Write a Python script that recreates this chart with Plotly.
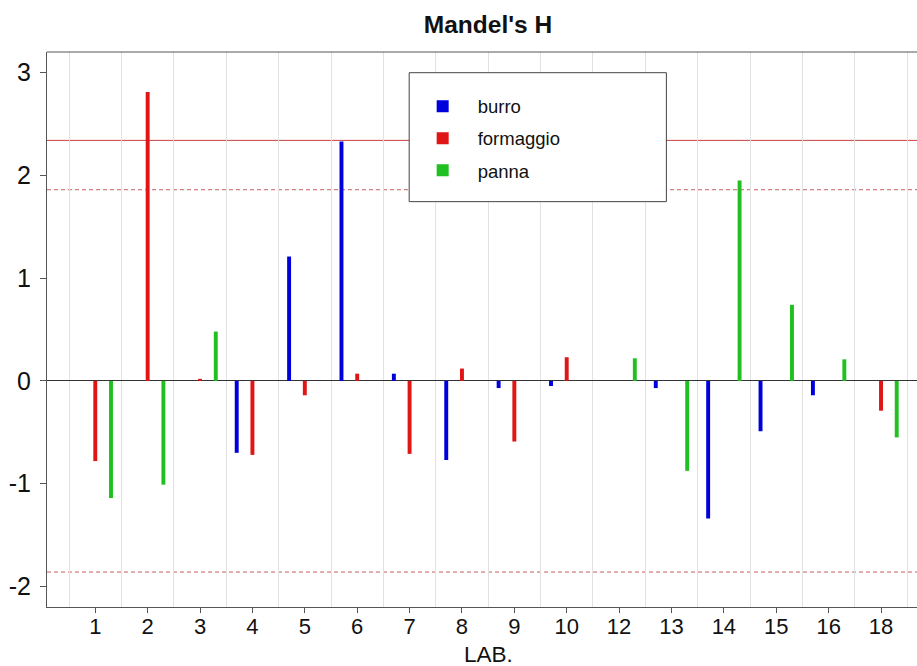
import plotly.graph_objects as go

# ---- data ----
labs = ["1", "2", "3", "4", "5", "6", "7", "8", "9", "10", "12", "13", "14", "15", "16", "18"]
series_names = ["burro", "formaggio", "panna"]
burro = [None, None, None, -0.70, 1.21, 2.33, 0.07, -0.77, -0.07, -0.05, None, -0.07, -1.34, -0.49, -0.14, None]
formaggio = [-0.78, 2.81, 0.02, -0.72, -0.14, 0.07, -0.71, 0.12, -0.59, 0.23, None, None, None, None, None, -0.29]
panna = [-1.14, -1.01, 0.48, None, None, None, None, None, None, None, 0.22, -0.875, 1.95, 0.74, 0.21, -0.55]
y_ticks = [-2, -1, 0, 1, 2, 3]
y_ticklabels = ["-2", "-1", "0", "1", "2", "3"]
h_crit_1 = 2.34
h_crit_5 = 1.86

# ---- style ----
colors = ["#0000dd", "#e01515", "#20c020"]
offsets = [-0.3, 0.0, 0.3]
W, H = 917, 666
ml, mr, mt, mb = 46.7, 0, 52.3, 58.5
FONT = "Liberation Sans, Arial, sans-serif"

pw = W - ml - mr
ph = H - mt - mb
def px_x(p):
    return (p - ml) / pw
def px_y(p):
    return (H - mb - p) / ph

fig = go.Figure()
for name, vals, col, off in zip(series_names, [burro, formaggio, panna], colors, offsets):
    xs = [i + 1 + off for i in range(len(labs))]
    fig.add_trace(go.Bar(
        x=xs, y=vals, name=name, width=0.075,
        marker=dict(color=col, line=dict(width=0)),
        legendgroup=name,
    ))

# legend box
fig.add_shape(type="rect", xref="paper", yref="paper",
              x0=px_x(409), x1=px_x(666.3), y0=px_y(202), y1=px_y(73),
              fillcolor="white", line=dict(color="#444444", width=1), layer="above")

# critical lines
fig.add_hline(y=h_crit_1, line=dict(color="#c84040", width=1), layer="below")
for v in (h_crit_5, -h_crit_5):
    fig.add_hline(y=v, line=dict(color="#c86060", width=1, dash="4px,3px"), layer="below")

# top border
fig.add_shape(type="line", xref="paper", yref="paper", x0=0, x1=1, y0=1, y1=1,
              line=dict(color="#555555", width=1))

fig.update_layout(
    width=W, height=H,
    margin=dict(l=ml, r=mr, t=mt, b=mb, pad=0),
    paper_bgcolor="white", plot_bgcolor="white",
    font=dict(family=FONT, color="#111111"),
    barmode="overlay",
    showlegend=True,
    legend=dict(
        x=px_x(407.5), y=px_y(88), xanchor="left", yanchor="top",
        bgcolor="rgba(0,0,0,0)", borderwidth=0,
        font=dict(size=18.5, family=FONT, color="#111111"),
        traceorder="grouped", tracegroupgap=5, itemwidth=60,
    ),
    title=dict(text="<b>Mandel's H</b>", x=488 / W, y=1 - 24 / H,
               xref="container", yref="container", xanchor="center", yanchor="middle",
               font=dict(size=24.5, family=FONT, color="#111111")),
    xaxis=dict(
        range=[1 - (95 - ml) / 52.4, 1 + (W - mr - 95) / 52.4],
        tickmode="array", tickvals=list(range(1, len(labs) + 1)), ticktext=labs,
        ticks="outside", ticklen=5, tickcolor="#555555", tickwidth=1,
        tickfont=dict(size=22, family=FONT, color="#111111"),
        ticklabelstandoff=-5,
        showline=True, linecolor="#555555", linewidth=1,
        showgrid=False, zeroline=False,
        minor=dict(tickmode="linear", tick0=0.5, dtick=1, showgrid=True,
                   gridcolor="#e2e2e2", gridwidth=1, ticks=""),
        fixedrange=True,
    ),
    yaxis=dict(
        range=[-2.2, 3.2],
        tickmode="array", tickvals=y_ticks, ticktext=y_ticklabels,
        ticks="outside", ticklen=6, tickcolor="#555555", tickwidth=1,
        tickfont=dict(size=25, family=FONT, color="#111111"),
        showline=True, linecolor="#555555", linewidth=1,
        showgrid=False,
        zeroline=True, zerolinecolor="#333333", zerolinewidth=1,
        ticklabelstandoff=4,
        fixedrange=True,
    ),
)

fig.add_annotation(text="LAB.", xref="paper", yref="paper",
                   x=px_x(488), y=px_y(655), xanchor="center", yanchor="middle",
                   showarrow=False, font=dict(size=22.5, family=FONT, color="#111111"))

fig.write_html("out.html")
